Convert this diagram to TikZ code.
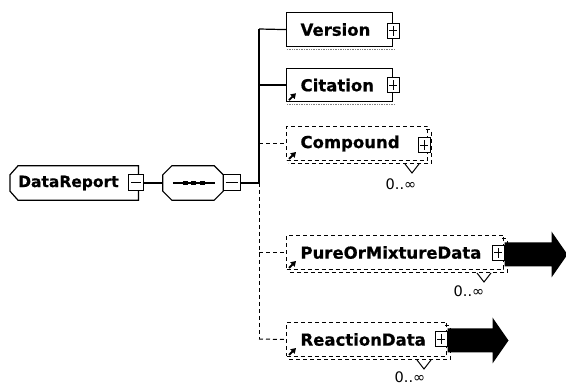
\documentclass[tikz,border=0pt]{standalone}
\usepackage{fontspec}
\setmainfont{DejaVu Sans}[BoldFeatures={FakeBold=0.6}]
\usetikzlibrary{calc,arrows.meta}
\begin{document}
\begin{tikzpicture}[x=1pt,y=-1pt,
  lw/.style={line width=1.2pt},
  dsh/.style={line width=1pt, dash pattern=on 4pt off 3pt},
  lbl/.style={font=\fontsize{16.5}{18}\selectfont\bfseries},
  elem/.style={draw, line width=1.2pt, rectangle, anchor=north west, inner xsep=14pt, inner ysep=0pt, align=left, lbl},
  optelem/.style={elem, dsh},
  pmbox/.style={draw, fill=white, line width=1pt, minimum width=12pt, minimum height=15pt, inner sep=0pt},
  plusbox/.style={pmbox, path picture={
      \draw[line width=1pt] ([xshift=2pt]path picture bounding box.west) -- ([xshift=-2pt]path picture bounding box.east);
      \draw[line width=1pt] ([yshift=-2.5pt]path picture bounding box.north) -- ([yshift=2.5pt]path picture bounding box.south);}},
  minusbox/.style={pmbox, minimum width=15pt, minimum height=16pt, path picture={
      \draw[line width=1pt] ([xshift=2.5pt]path picture bounding box.west) -- ([xshift=-2.5pt]path picture bounding box.east);}},
  card/.style={font=\fontsize{14.5}{15}\selectfont, inner sep=0pt},
  refarrow/.style={-{Triangle[length=5pt,width=6pt]}, line width=1.8pt},
  plain/.style={rectangle, minimum height=34pt, inner sep=0pt}
]
\useasboundingbox (0,0) rectangle (566,385);

% root element
\node[plain, minimum width=128pt, anchor=west, font=\fontsize{15.5}{17}\selectfont\bfseries, inner xsep=8pt, text width=112pt, align=left] (dr) at (10,183) {DataReport};
\draw[lw] (dr.north east) -- ($(dr.north west)+(8,0)$) -- ($(dr.north west)+(0,9)$) -- ($(dr.south west)+(0,-9)$) -- ($(dr.south west)+(8,0)$) -- (dr.south east) -- cycle;
\node[minusbox] (drm) at ($(dr.east)+(-2,0)$) {};

% sequence compositor
\node[plain, minimum width=60pt] (seq) at (193,183) {};
\draw[lw] ($(seq.north west)+(9,0)$) -- ($(seq.north east)+(-9,0)$) -- ($(seq.north east)+(0,9)$) -- ($(seq.south east)+(0,-9)$) -- ($(seq.south east)+(-9,0)$) -- ($(seq.south west)+(9,0)$) -- ($(seq.south west)+(0,-9)$) -- ($(seq.north west)+(0,9)$) -- cycle;
\node[minusbox, minimum width=17pt] (sqm) at ($(seq.east)+(8.5,0)$) {};
\draw[line width=1.5pt] ($(seq.west)+(10,0)$) -- ($(seq.east)+(-8,0)$);
\foreach \dx in {-8,0,9} \fill ($(seq.center)+(\dx-2.5,-2)$) rectangle ++(5,4);

\draw[lw] (drm.east) -- (seq.west);

% bus coordinates
\coordinate (b1) at (259,29);
\coordinate (bm) at (259,183);
\coordinate (b5) at (259,339);
\draw[lw] (sqm.east) -- (bm);
\draw[lw] (b1) -- (bm);
\draw[dsh] (bm) -- (b5);

% Version
\node[elem, text width=78pt, minimum height=34pt] (ver) at (286,12) {Version};
\draw[gray, line width=0.7pt, densely dotted] ($(ver.south west)+(1,2.5)$) -- ($(ver.south east)+(1,2.5)$);
\node[plusbox] (verp) at ($(ver.east)+(0,1)$) {};
\draw[lw] (b1) -- (ver.west);

% Citation
\node[elem, text width=78pt, minimum height=33pt] (cit) at (286,68) {Citation};
\draw[gray, line width=0.7pt, densely dotted] ($(cit.south west)+(1,2.5)$) -- ($(cit.south east)+(1,2.5)$);
\node[plusbox] (citp) at ($(cit.east)+(0,0)$) {};
\draw[refarrow] ($(cit.south west)+(3,-2)$) -- ++(7,-7);
\draw[lw] (cit.west -| b1) -- (cit.west);

% Compound
\node[optelem, text width=113pt, minimum height=34pt] (cmp) at (286,126) {Compound};
\draw[dsh] ($(cmp.north east)+(-2,4)$) -- ($(cmp.north east)+(3,4)$) -- ($(cmp.south east)+(3,3)$) -- ($(cmp.south west)+(2,3)$);
\node[plusbox] (cmpp) at ($(cmp.east)+(-4,2)$) {};
\draw[refarrow] ($(cmp.south west)+(3,-2)$) -- ++(7,-7);
\draw[line width=1pt] ($(cmp.south east)+(-23,3)$) -- ($(cmp.south east)+(-16,12)$) -- ($(cmp.south east)+(-9,3)$);
\node[card] (cmpc) at ($(cmp.south east)+(-27,23)$) {0..∞};
\draw[dsh] (cmp.west -| b1) -- (cmp.west);

% PureOrMixtureData
\node[optelem, text width=189pt, minimum height=34pt] (pmd) at (286,235) {PureOrMixtureData};
\draw[dsh] ($(pmd.north east)+(-2,4)$) -- ($(pmd.north east)+(3,4)$) -- ($(pmd.south east)+(3,3)$) -- ($(pmd.south west)+(2,3)$);
\node[plusbox] (pmdp) at ($(pmd.east)+(-6,0.5)$) {};
\draw[refarrow] ($(pmd.south west)+(3,-2)$) -- ++(7,-7);
\draw[line width=1pt] ($(pmd.south east)+(-27,3)$) -- ($(pmd.south east)+(-20,12)$) -- ($(pmd.south east)+(-13,3)$);
\node[card] (pmdc) at ($(pmd.south east)+(-35,21)$) {0..∞};
\draw[dsh] (pmd.west -| b1) -- (pmd.west);
\fill ($(pmdp.east)+(0,-10.5)$) -- ++(47,0) -- ++(0,-11) -- ++(16,23) -- ++(-16,23) -- ++(0,-11) -- ++(-47,0) -- cycle;

% ReactionData
\node[optelem, text width=132pt, minimum height=34pt] (rxn) at (286,322) {ReactionData};
\draw[dsh] ($(rxn.north east)+(-2,4)$) -- ($(rxn.north east)+(3,4)$) -- ($(rxn.south east)+(3,3)$) -- ($(rxn.south west)+(2,3)$);
\node[plusbox] (rxnp) at ($(rxn.east)+(-6,0)$) {};
\draw[refarrow] ($(rxn.south west)+(3,-2)$) -- ++(7,-7);
\draw[line width=1pt] ($(rxn.south east)+(-30,3)$) -- ($(rxn.south east)+(-23,12)$) -- ($(rxn.south east)+(-16,3)$);
\node[card] (rxnc) at ($(rxn.south east)+(-37,20.5)$) {0..∞};
\draw[dsh] (b5) -- (rxn.west);
\fill ($(rxnp.east)+(0,-11)$) -- ++(45,0) -- ++(0,-11) -- ++(16,23) -- ++(-16,23) -- ++(0,-11) -- ++(-45,0) -- cycle;
\end{tikzpicture}
\end{document}
